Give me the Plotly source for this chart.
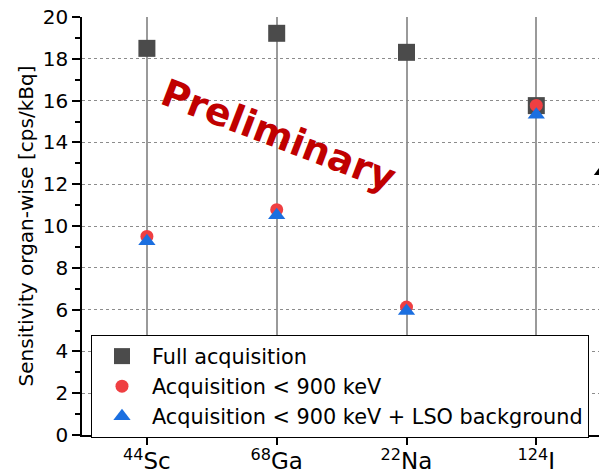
import plotly.graph_objects as go

# Isotopes (tick labels with mass numbers as superscripts)
isotopes = ["<sup>44</sup>Sc", "<sup>68</sup>Ga", "<sup>22</sup>Na", "<sup>124</sup>I"]

# Organ-wise sensitivity [cps/kBq]
full_acq = [18.5, 19.22, 18.31, 15.76]
acq_900 = [9.5, 10.78, 6.12, 15.77]
acq_900_lso = [9.27, 10.52, 5.93, 15.32]

FONT = "DejaVu Sans"
x_idx = list(range(len(isotopes)))

fig = go.Figure()
fig.add_trace(go.Scatter(
    x=x_idx, y=full_acq, mode="markers", name="Full acquisition",
    marker=dict(symbol="square", size=17, color="#4b4b4b"),
))
fig.add_trace(go.Scatter(
    x=x_idx, y=acq_900, mode="markers", name="Acquisition < 900 keV",
    marker=dict(symbol="circle", size=13, color="#ef3f42"),
))
fig.add_trace(go.Scatter(
    x=x_idx, y=acq_900_lso, mode="markers",
    name="Acquisition < 900 keV + LSO background",
    marker=dict(symbol="triangle-up", size=15, color="#1b6fe0"),
))

# Watermark
fig.add_annotation(
    x=1.012, y=14.35, xref="x", yref="y", text="<b>Preliminary</b>",
    showarrow=False, textangle=21,
    font=dict(family="DejaVu Sans", size=38, color="#c00000"),
)

# Tip of an arrowhead cut by the right edge of the figure
fig.add_shape(
    type="path", xref="paper", yref="paper",
    path="M 0.990,0.622 L 1.0,0.639 L 1.0,0.622 Z",
    fillcolor="black", line=dict(width=0),
)

fig.update_layout(
    width=599, height=473,
    margin=dict(l=82, r=0, t=17, b=38),
    paper_bgcolor="white", plot_bgcolor="white",
    font=dict(family=FONT, size=20, color="black"),
    showlegend=True,
    legend=dict(
        x=0.0174, y=0.239, xanchor="left", yanchor="top",
        bgcolor="white", bordercolor="black", borderwidth=1,
        font=dict(family=FONT, size=20.8, color="black"),
        itemwidth=50, tracegroupgap=0,
    ),
)

fig.update_xaxes(
    range=[-0.5, 3.483], automargin=False,
    tickmode="array", tickvals=x_idx, ticktext=isotopes,
    tickfont=dict(family=FONT, size=23),
    ticks="outside", ticklen=8, tickwidth=1.5, tickcolor="black",
    ticklabelstandoff=-3,
    showline=True, linecolor="black", linewidth=1.5,
    showgrid=True, gridcolor="#9a9a9a", gridwidth=1.5,
    zeroline=False,
)
fig.update_yaxes(
    range=[0, 20], dtick=2, automargin=False,
    tickfont=dict(family=FONT, size=20),
    ticks="outside", ticklen=8, tickwidth=1.5, tickcolor="black",
    minor=dict(dtick=1, ticks="outside", ticklen=5, tickwidth=1.5,
               tickcolor="black", showgrid=False),
    showline=True, linecolor="black", linewidth=1.5,
    showgrid=True, gridcolor="#8c8c8c", gridwidth=1, griddash="3px,3px",
    zeroline=False,
    title=dict(text="Sensitivity organ-wise [cps/kBq]",
               font=dict(family=FONT, size=20), standoff=4),
)

fig.write_html("out.html")
